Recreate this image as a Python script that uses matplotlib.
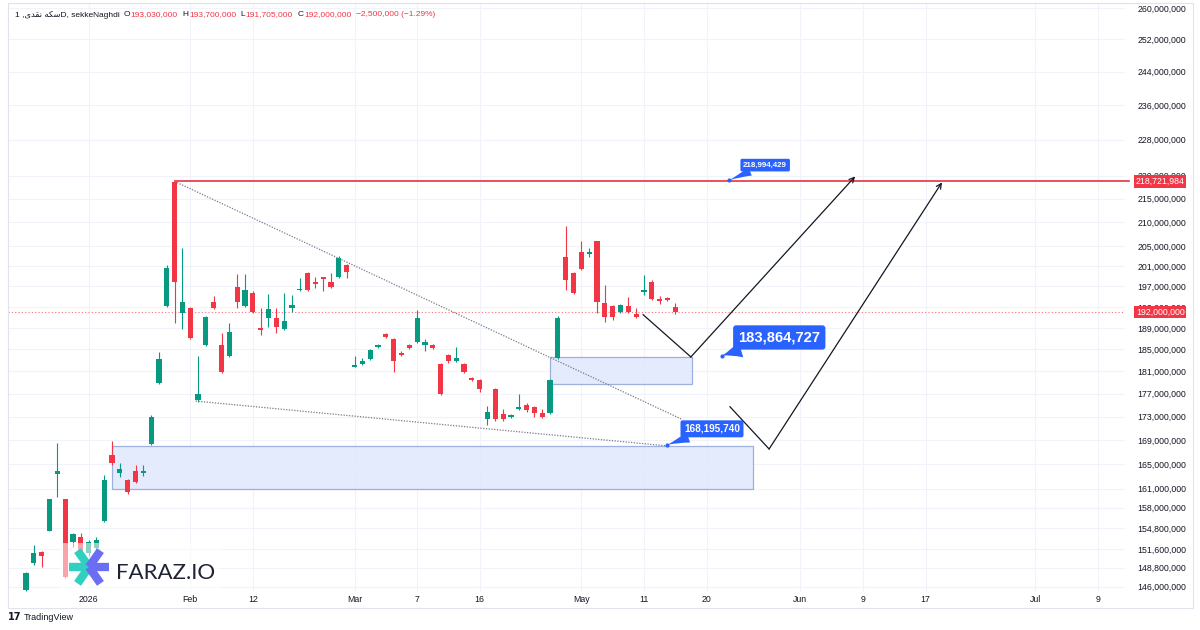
import numpy as np
import matplotlib.pyplot as plt
from matplotlib.patches import Rectangle
from matplotlib.lines import Line2D
from matplotlib.transforms import blended_transform_factory

# daily bars, prices in millions
opens = [145.6, 149.55, 151.2, 154.4, 163.4, 159.3, 152.7, 153.5, 151.0, 151.8,
         155.9, 166.5, 163.5, 162.4, 163.9, 163.6, 168.4, 178.9, 193.2, 218.5,
         191.8, 192.8, 175.85, 185.8, 193.9, 185.8, 183.8, 196.9, 193.2, 195.7,
         189.0, 190.9, 190.9, 188.8, 192.8, 196.2, 199.6, 197.8, 198.6, 197.8,
         198.8, 201.2, 181.8, 182.3, 183.2, 185.5, 187.8, 186.9, 184.4, 185.8,
         186.4, 185.8, 185.8, 182.3, 184.0, 182.9, 182.3, 179.8, 179.4, 172.5,
         177.8, 173.5, 173.0, 174.3, 175.0, 174.7, 173.6, 173.6, 183.4, 202.8,
         199.6, 203.9, 203.5, 206.0, 193.7, 193.2, 192.0, 193.2, 191.7, 195.9,
         197.8, 194.5, 194.7, 193.03]
highs = [148.1, 152.2, 151.3, 159.4, 168.55, 159.4, 154.1, 154.0, 153.0, 153.5,
         163.2, 168.9, 165.2, 162.6, 164.9, 164.9, 173.2, 184.5, 201.2, 218.72,
         204.7, 193.0, 183.8, 191.3, 195.1, 188.0, 189.9, 199.4, 199.4, 196.0,
         192.8, 195.5, 192.8, 195.7, 195.3, 198.6, 199.8, 198.8, 198.8, 199.6,
         203.0, 201.4, 183.8, 183.4, 185.1, 186.0, 188.0, 187.1, 184.6, 186.0,
         192.4, 186.9, 186.0, 182.5, 184.2, 185.5, 182.5, 180.0, 179.6, 174.8,
         178.0, 174.3, 173.4, 176.9, 175.4, 174.9, 174.3, 179.6, 191.3, 209.2,
         199.8, 206.0, 204.7, 206.2, 197.3, 193.4, 193.6, 194.9, 192.8, 199.2,
         198.2, 195.1, 194.9, 193.7]
lows = [145.4, 149.25, 148.95, 154.3, 159.7, 147.3, 151.95, 150.5, 150.6, 151.6,
        155.7, 164.9, 162.9, 160.2, 161.9, 163.1, 168.2, 178.7, 193.0, 189.9,
        188.8, 186.9, 175.5, 185.6, 192.6, 180.7, 183.6, 192.8, 193.0, 191.8,
        187.7, 189.2, 188.0, 188.6, 192.0, 196.1, 196.1, 196.7, 196.1, 196.7,
        198.6, 198.6, 181.7, 182.2, 183.0, 185.3, 187.1, 180.9, 183.8, 185.1,
        186.2, 184.6, 185.1, 176.7, 182.5, 182.7, 180.7, 179.2, 177.3, 171.6,
        172.3, 172.3, 172.8, 174.2, 173.8, 173.0, 172.8, 173.4, 183.2, 196.3,
        195.5, 200.2, 202.8, 191.8, 190.1, 190.5, 191.8, 191.8, 190.9, 195.3,
        194.3, 193.5, 194.1, 191.705]
closes = [148.0, 151.05, 150.6, 159.3, 163.9, 147.5, 153.9, 151.0, 152.6, 153.0,
          162.4, 165.2, 164.2, 160.5, 162.1, 163.9, 173.0, 183.2, 200.6, 197.8,
          193.9, 187.1, 176.9, 191.1, 192.8, 180.9, 188.2, 193.9, 196.3, 192.0,
          188.6, 192.6, 189.2, 190.3, 193.4, 196.3, 196.3, 197.4, 198.5, 196.9,
          202.6, 199.8, 182.0, 182.9, 184.9, 185.8, 187.3, 182.9, 184.0, 185.3,
          190.9, 186.4, 185.3, 176.9, 182.9, 183.4, 180.9, 179.4, 177.8, 173.8,
          172.5, 172.5, 173.2, 174.5, 174.1, 173.6, 173.0, 179.4, 190.9, 198.2,
          195.7, 200.4, 203.9, 193.9, 191.1, 191.1, 193.4, 192.0, 191.1, 196.1,
          194.5, 194.1, 194.3, 192.0]

# axis ticks
price_ticks = [260, 252, 244, 236, 228, 220, 215, 210, 205, 201, 197, 193, 189,
               185, 181, 177, 173, 169, 165, 161, 158, 154.8, 151.6, 148.8, 146]
date_pos = [8, 21, 29, 42, 50, 58, 71, 79, 87, 99, 107, 115, 129, 137]
date_lbl = ['2026', 'Feb', '12', 'Mar', '7', '16', 'May', '11', '20', 'Jun', '9', '17', 'Jul', '9']

# drawings (bar index, price)
resistance = 218.721984
last_price = 192.0
res_start = 19
upper_trend = [(19, 218.72), (83.9, 172.5)]
lower_trend = [(21.7, 175.7), (82.1, 168.0)]
zone_big = (11, 93, 160.9, 168.0)      # x0, x1, low, high
zone_small = (67, 85.2, 178.7, 183.6)
path1 = [(78.9, 191.5), (85.0, 183.6), (106.0, 219.8)]
path2 = [(90.0, 174.7), (95.0, 167.5), (117.1, 218.5)]
callouts = [('218,994,429', (89.9, 218.99), (94.5, 222.3), 5.8),
            ('183,864,727', (89.0, 183.86), (96.3, 187.2), 10.6),
            ('168,195,740', (82.0, 168.2), (87.7, 170.9), 7.2)]

header_name = '1 ,\uFBFC\uFEAA\uFED8\uFEE7 \uFEEA\uFB91\uFEB3D, sekkeNaghdi'
header_ohlc = [('O', '193,030,000'), ('H', '193,700,000'), ('L', '191,705,000'),
               ('C', '192,000,000'), ('', '\u22122,500,000 (\u22121.29%)')]

GREEN = '#089981'
RED = '#F23645'
TXT = '#131722'

plt.rcParams['font.family'] = ['Liberation Sans', 'DejaVu Sans']

W, H = 1200, 630
fig = plt.figure(figsize=(12, 6.3), dpi=100)
ax = fig.add_axes([8 / W, 1 - 592 / H, (1125 - 8) / W, (592 - 4) / H])
ax.set_yscale('log')
ax.set_ylim(145.24, 261.04)
ax.set_xlim(-2.3, 140.5)
for s in ax.spines.values():
    s.set_visible(False)

# grid
ax.yaxis.set_major_locator(plt.FixedLocator(price_ticks))
ax.yaxis.set_minor_locator(plt.NullLocator())
ax.set_yticklabels([f'{int(round(v * 1e6)):,}' for v in price_ticks])
ax.yaxis.tick_right()
ax.tick_params(axis='y', length=0, pad=9, labelsize=6.3, labelcolor=TXT)
ax.set_xticks(date_pos)
ax.set_xticklabels(date_lbl)
ax.tick_params(axis='x', length=0, pad=2.5, labelsize=6.3, labelcolor=TXT)
ax.grid(True, color='#f0f3fa', lw=0.8, zorder=0)
ax.set_axisbelow(True)

# candles
o = np.array(opens); c = np.array(closes)
hi = np.array(highs); lo = np.array(lows)
x = np.arange(len(o))
cols = np.where(c >= o, GREEN, RED)
ax.vlines(x, lo, hi, colors=cols, lw=0.8, zorder=3)
bot = np.minimum(o, c)
ht = np.maximum(np.abs(c - o), 0.3)
ax.bar(x, ht, bottom=bot, width=0.66, color=cols, lw=0, zorder=4)

# zones
for x0, x1, zl, zh in [zone_big, zone_small]:
    ax.add_patch(Rectangle((x0, zl), x1 - x0, zh - zl, fc='#dfe8fc', ec='#8ea4d9',
                           lw=0.9, alpha=0.85, zorder=2))

# lines
ax.plot([res_start, 141], [resistance, resistance], color='#e3343f', lw=1.2, zorder=5, clip_on=False)
ax.axhline(last_price, color=RED, lw=0.8, ls=(0, (1, 2)), alpha=0.7, zorder=1)
for tl in [upper_trend, lower_trend]:
    ax.plot([p[0] for p in tl], [p[1] for p in tl], color='#787b86', lw=0.9,
            ls=(0, (1, 1.2)), zorder=5)
for path in [path1, path2]:
    ax.plot([p[0] for p in path[:-1]], [p[1] for p in path[:-1]], color=TXT, lw=0.9, zorder=6)
    ax.annotate('', xy=path[-1], xytext=path[-2],
                arrowprops=dict(arrowstyle='->', color=TXT, lw=0.9, mutation_scale=9,
                                shrinkA=0, shrinkB=0), zorder=6)

# callouts
for txt, pt, pos, fs in callouts:
    ax.annotate(txt, xy=pt, xytext=pos, ha='center', va='center', fontsize=fs,
                color='white', fontweight='bold', zorder=8,
                bbox=dict(boxstyle='round,pad=0.35,rounding_size=0.2', fc='#2962ff', ec='none'),
                arrowprops=dict(arrowstyle='wedge,tail_width=1.1,shrink_factor=0.4',
                                fc='#2962ff', ec='none', shrinkA=0, shrinkB=0))
    ax.plot(*pt, 'o', ms=2, color='#2962ff', zorder=8)

# price labels on scale
bt = blended_transform_factory(ax.transAxes, ax.transData)
for v in [resistance, last_price]:
    ax.text(1.0315, v, f'{int(round(v * 1e6)):,}', transform=bt, ha='center', va='center',
            fontsize=6.3, color='white', zorder=10, clip_on=False,
            bbox=dict(boxstyle='square,pad=0.2', fc=RED, ec='none'))

# watermark
fig.add_artist(Rectangle((60 / W, 1 - 592 / H), 160 / W, 49 / H, transform=fig.transFigure,
                         fc='white', ec='none', alpha=0.55, zorder=20))
cx, cy = 89, 567
for ang, col in [(180, '#2fd0c0'), (125, '#2fd0c0'), (235, '#2fd0c0'),
                 (0, '#6b6ef2'), (55, '#6b6ef2'), (-55, '#6b6ef2')]:
    dx = 20 * np.cos(np.radians(ang)); dy = 20 * np.sin(np.radians(ang))
    fig.add_artist(Line2D([cx / W, (cx + dx) / W], [1 - cy / H, 1 - (cy - dy) / H],
                          transform=fig.transFigure, color=col, lw=6,
                          solid_capstyle='butt', zorder=21))
fig.text(116 / W, 1 - 573 / H, 'FARAZ.IO', fontsize=16, color='#1e2233', family='Lato',
         va='center', zorder=22)

# header
fig.canvas.draw()
r = fig.canvas.get_renderer()
xp = 15
t = fig.text(xp / W, 1 - 15 / H, header_name, fontsize=6.0, color=TXT, va='center')
xp = t.get_window_extent(r).x1 + 4
for k, val in header_ohlc:
    if k:
        t = fig.text(xp / W, 1 - 15 / H, k, fontsize=6.0, color=TXT, va='center')
        xp = t.get_window_extent(r).x1 + 0.5
    t = fig.text(xp / W, 1 - 15 / H, val, fontsize=6.0, color=RED, va='center')
    xp = t.get_window_extent(r).x1 + 4.5

# frame and footer
fig.add_artist(Rectangle((8 / W, 1 - 608 / H), 1185 / W, 605 / H, transform=fig.transFigure,
                         fill=False, ec='#e0e3eb', lw=0.8))
fig.text(8 / W, 1 - 617 / H, '17', fontsize=7, fontweight='bold', color=TXT, va='center',
         family='DejaVu Sans')
fig.text(24 / W, 1 - 617 / H, 'TradingView', fontsize=6.5, color=TXT, va='center')

fig.savefig('out.png', dpi=100, facecolor='white')
